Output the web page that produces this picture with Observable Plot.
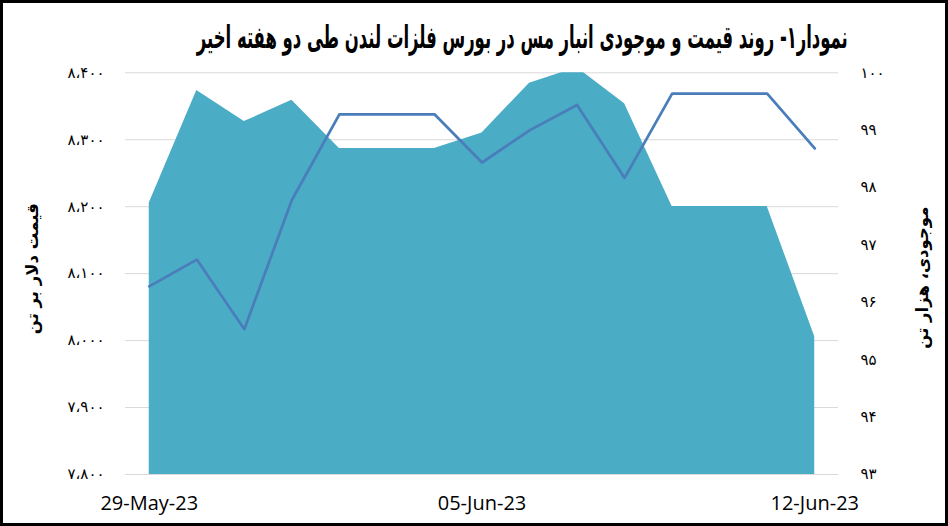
<!DOCTYPE html>
<html>
<head>
<meta charset="utf-8">
<script src="https://cdn.jsdelivr.net/npm/d3@7"></script>
<script src="https://cdn.jsdelivr.net/npm/@observablehq/plot@0.6"></script>
<style>
  html, body { margin: 0; padding: 0; background: #fff; }
  #wrap { position: relative; width: 948px; height: 526px; overflow: hidden; background: #fff; }
  #wrap svg { position: absolute; left: 0; top: 0; }
  #wrap svg g[aria-label="y-axis tick label"] text { letter-spacing: 2px; }
  #border { position: absolute; left: 0; top: 0; width: 948px; height: 526px; box-sizing: border-box; border: 3px solid #000; pointer-events: none; }
  #title { position: absolute; right: 100px; top: 22px; font-family: "DejaVu Sans", sans-serif; font-weight: bold; font-size: 31px; line-height: 1; direction: rtl; white-space: nowrap; transform-origin: right center; color: #000; }
</style>
</head>
<body>
<div id="wrap">
  <div id="title"></div>
  <div id="border"></div>
</div>
<script>
// ---- data ----
const dates = ["2023-05-29","2023-05-30","2023-05-31","2023-06-01","2023-06-02","2023-06-03","2023-06-04","2023-06-05","2023-06-06","2023-06-07","2023-06-08","2023-06-09","2023-06-10","2023-06-11","2023-06-12"];
const price = [8081, 8121, 8017, 8210, 8338, 8338, 8338, 8266, 8314, 8352, 8243, 8369, 8369, 8369, 8287];
const inventory = [97.73, 99.69, 99.15, 99.52, 98.68, 98.68, 98.68, 98.95, 99.82, 100.09, 99.46, 97.67, 97.67, 97.67, 95.40];
const leftTicks = [7800, 7900, 8000, 8100, 8200, 8300, 8400];
const leftTickLabels = ["۷،۸۰۰","۷،۹۰۰","۸،۰۰۰","۸،۱۰۰","۸،۲۰۰","۸،۳۰۰","۸،۴۰۰"];
const rightTicks = [93, 94, 95, 96, 97, 98, 99, 100];
const rightTickLabels = ["۹۳","۹۴","۹۵","۹۶","۹۷","۹۸","۹۹","۱۰۰"];
const xTickDates = ["2023-05-29","2023-06-05","2023-06-12"];
const xTickLabels = ["29-May-23","05-Jun-23","12-Jun-23"];
const titleText = "نمودار۱- روند قیمت و موجودی انبار مس در بورس فلزات لندن طی دو هفته اخیر";
const leftTitle = "قیمت دلار بر تن";
const rightTitle = "موجودی، هزار تن";

// map inventory (right axis) onto the price scale
const pMin = 7800, pMax = 8400, iMin = 93, iMax = 100;
const toPrice = v => pMin + (v - iMin) * (pMax - pMin) / (iMax - iMin);

const rows = dates.map((d, i) => ({date: new Date(d + "T00:00:00Z"), price: price[i], inv: inventory[i]}));
const halfDay = 12 * 3600 * 1000;
const xDomain = [new Date(rows[0].date.getTime() - halfDay), new Date(rows[rows.length - 1].date.getTime() + halfDay)];
const rightTickPos = rightTicks.map(toPrice);
const xTickPos = xTickDates.map(d => new Date(d + "T00:00:00Z"));

const chart = Plot.plot({
  width: 948,
  height: 526,
  marginLeft: 125,
  marginRight: 110,
  marginTop: 72.3,
  marginBottom: 52,
  style: {fontFamily: "DejaVu Sans, sans-serif", background: "transparent", color: "#000"},
  x: {type: "utc", domain: xDomain},
  y: {domain: [pMin, pMax]},
  marks: [
    Plot.ruleY(leftTicks, {stroke: "#d9d9d9", strokeWidth: 1}),
    Plot.areaY(rows, {x: "date", y1: () => pMin, y2: d => toPrice(d.inv), fill: "#4BACC6", clip: true, curve: "linear"}),
    Plot.lineY(rows, {x: "date", y: "price", stroke: "#4A7EBB", strokeWidth: 2.75, curve: "linear"}),
    Plot.axisY({anchor: "left", ticks: leftTicks, tickFormat: d => leftTickLabels[leftTicks.indexOf(d)], tickSize: 0, tickPadding: 21, fontSize: 15, label: null}),
    Plot.axisY({anchor: "right", ticks: rightTickPos, tickFormat: d => rightTickLabels[rightTickPos.findIndex(t => Math.abs(t - d) < 1e-6)], tickSize: 0, tickPadding: 22, fontSize: 15, label: null}),
    Plot.axisX({ticks: xTickPos, tickFormat: d => xTickLabels[xTickPos.findIndex(s => s.getTime() === d.getTime())], tickSize: 0, tickPadding: 21, fontSize: 20, fontFamily: "Open Sans, sans-serif", label: null}),
    Plot.text([leftTitle], {frameAnchor: "left", text: d => d, rotate: -90, textAnchor: "middle", dx: -93, dy: -5, fontSize: 16.5, fontWeight: "bold"}),
    Plot.text([rightTitle], {frameAnchor: "right", text: d => d, rotate: -90, textAnchor: "middle", dx: 84, dy: 4, fontSize: 16.5, fontWeight: "bold"})
  ]
});
const wrap = document.getElementById("wrap");
wrap.insertBefore(chart, wrap.firstChild);

// fit title to reference width
const t = document.getElementById("title");
t.textContent = titleText;
const w = t.getBoundingClientRect().width;
t.style.transform = `scaleX(${651 / w})`;
</script>
</body>
</html>
